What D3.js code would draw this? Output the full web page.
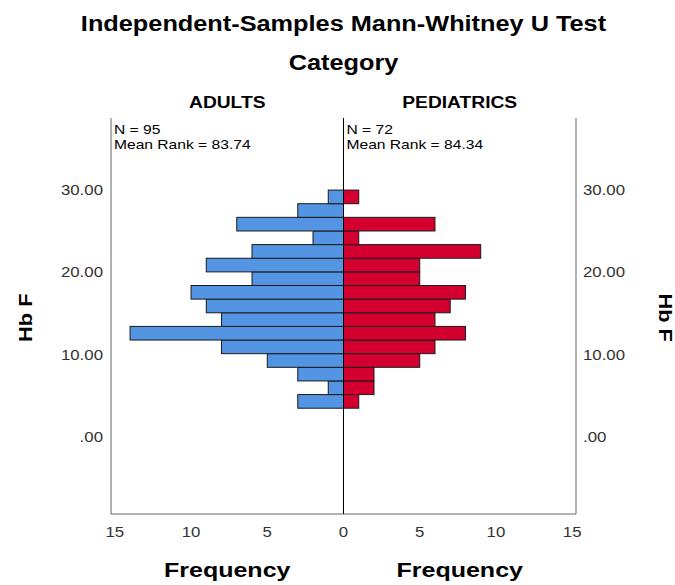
<!DOCTYPE html>
<html>
<head>
<meta charset="utf-8">
<script src="https://cdn.jsdelivr.net/npm/d3@7"></script>
<style>
  html, body { margin: 0; padding: 0; background: #fff; }
  text { font-family: Arial, "Liberation Sans", sans-serif; }
</style>
</head>
<body>
<script>
// Hb F histogram, bins (lowest bin first)
var binStart = 3.5;
var binWidth = 1.656;
var adults = [3, 1, 3, 5, 8, 14, 8, 9, 10, 6, 9, 6, 2, 7, 3, 1];
var pediatrics = [1, 2, 2, 5, 6, 8, 6, 7, 8, 5, 5, 9, 1, 6, 0, 1];
var groups = ["ADULTS", "PEDIATRICS"];
var groupN = [95, 72];
var meanRank = ["83.74", "84.34"];
var yTicks = [0, 10, 20, 30];
var xTicks = [0, 5, 10, 15];

var w = 675, h = 585;
var svg = d3.select("body").append("svg").attr("width", w).attr("height", h);

var mid = 343.5;
var xl = d3.scaleLinear().domain([0, 15.25]).range([mid, 111]);
var xr = d3.scaleLinear().domain([0, 15.25]).range([mid, 576]);
var y = d3.scaleLinear().domain([-9.35, 38.75]).range([514, 118]);

// spss draws its text a bit wide, stretch it
function stretch(sel, k) {
  sel.each(function() {
    var len = this.getComputedTextLength();
    d3.select(this).attr("textLength", len * k).attr("lengthAdjust", "spacingAndGlyphs");
  });
}

// titles
svg.append("text").attr("x", mid).attr("y", 31).attr("text-anchor", "middle")
  .style("font-size", "22px").style("font-weight", "bold")
  .text("Independent-Samples Mann-Whitney U Test").call(stretch, 1.15);
svg.append("text").attr("x", mid).attr("y", 70).attr("text-anchor", "middle")
  .style("font-size", "22px").style("font-weight", "bold")
  .text("Category").call(stretch, 1.15);

var centers = [(111 + mid) / 2, (mid + 576) / 2];
groups.forEach(function(g, i) {
  svg.append("text").attr("x", centers[i]).attr("y", 108).attr("text-anchor", "middle")
    .style("font-size", "16px").style("font-weight", "bold")
    .text(g).call(stretch, 1.2);
  var x0 = i == 0 ? 114 : mid + 3;
  svg.append("text").attr("x", x0).attr("y", 134).style("font-size", "13px")
    .text("N = " + groupN[i]).call(stretch, 1.2);
  svg.append("text").attr("x", x0).attr("y", 149).style("font-size", "13px")
    .text("Mean Rank = " + meanRank[i]).call(stretch, 1.2);
  svg.append("text").attr("x", centers[i]).attr("y", 577).attr("text-anchor", "middle")
    .style("font-size", "20px").style("font-weight", "bold")
    .text("Frequency").call(stretch, 1.25);
});

// bars
function drawBars(data, x, color) {
  svg.append("g").selectAll("rect")
    .data(data)
    .enter()
    .append("rect")
    .attr("x", function(d) { return Math.min(x(0), x(d)); })
    .attr("width", function(d) { return Math.abs(x(d) - x(0)); })
    .attr("y", function(d, i) { return y(binStart + (i + 1) * binWidth); })
    .attr("height", function(d, i) { return y(binStart + i * binWidth) - y(binStart + (i + 1) * binWidth); })
    .attr("fill", color)
    .attr("stroke", "#1a1a1a")
    .attr("stroke-width", 1)
    .style("display", function(d) { return d > 0 ? null : "none"; });
}
drawBars(adults, xl, "#5394e3");
drawBars(pediatrics, xr, "#d3002f");

// frame lines
svg.append("line").attr("x1", 111).attr("x2", 111).attr("y1", 118).attr("y2", 514).attr("stroke", "#666");
svg.append("line").attr("x1", 576).attr("x2", 576).attr("y1", 118).attr("y2", 514).attr("stroke", "#666");
svg.append("line").attr("x1", 111).attr("x2", 576).attr("y1", 514).attr("y2", 514).attr("stroke", "#666");
svg.append("line").attr("x1", mid).attr("x2", mid).attr("y1", 118).attr("y2", 514).attr("stroke", "#000");

// y tick labels on both sides
function fmt(v) { return v == 0 ? ".00" : d3.format(".2f")(v); }
svg.append("g").selectAll("text").data(yTicks).enter().append("text")
  .attr("x", 103).attr("y", function(d) { return y(d); }).attr("dy", "0.35em")
  .attr("text-anchor", "end").style("font-size", "14px").attr("fill", "#333")
  .text(fmt).call(stretch, 1.2);
svg.append("g").selectAll("text").data(yTicks).enter().append("text")
  .attr("x", 583).attr("y", function(d) { return y(d); }).attr("dy", "0.35em")
  .attr("text-anchor", "start").style("font-size", "14px").attr("fill", "#333")
  .text(fmt).call(stretch, 1.2);

// x tick labels
svg.append("g").selectAll("text").data(xTicks).enter().append("text")
  .attr("x", function(d) { return xl(d); }).attr("y", 537).attr("text-anchor", "middle")
  .style("font-size", "14px").attr("fill", "#333")
  .text(function(d) { return d; }).call(stretch, 1.2);
svg.append("g").selectAll("text").data(xTicks.slice(1)).enter().append("text")
  .attr("x", function(d) { return xr(d); }).attr("y", 537).attr("text-anchor", "middle")
  .style("font-size", "14px").attr("fill", "#333")
  .text(function(d) { return d; }).call(stretch, 1.2);

// axis titles
svg.append("text").attr("transform", "translate(32," + y(14.5) + ") rotate(-90)")
  .attr("text-anchor", "middle").style("font-size", "19px").style("font-weight", "bold")
  .text("Hb F").call(stretch, 1.15);
svg.append("text").attr("transform", "translate(659," + y(14.5) + ") rotate(90)")
  .attr("text-anchor", "middle").style("font-size", "19px").style("font-weight", "bold")
  .text("Hb F").call(stretch, 1.15);
</script>
</body>
</html>
